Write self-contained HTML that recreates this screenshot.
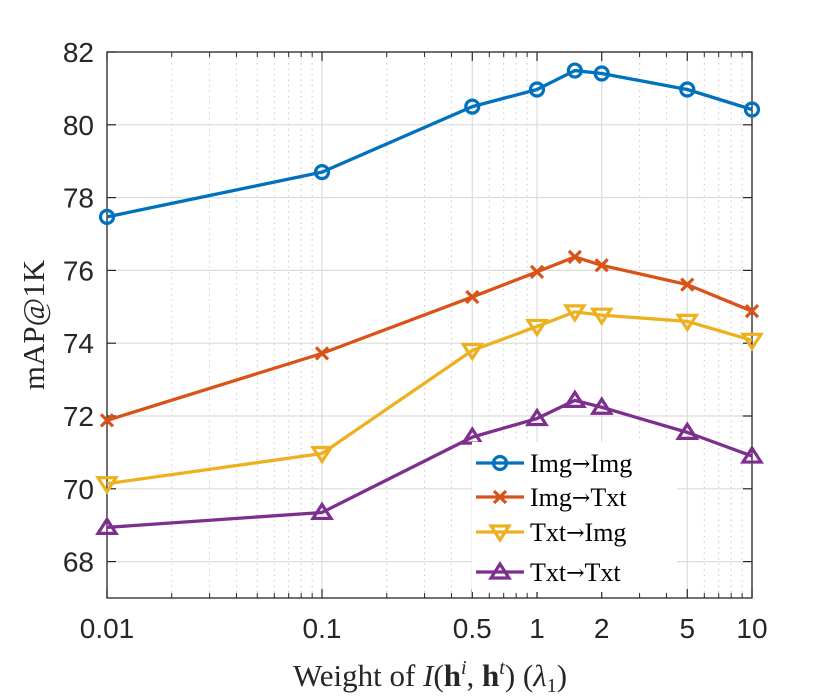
<!DOCTYPE html>
<html><head><meta charset="utf-8"><style>
body{margin:0;background:#fff}
svg{display:block}
.tk{font-family:"Liberation Sans",sans-serif;font-size:28px;fill:#262626}
.lb{font-family:"Liberation Serif",serif;font-size:31px;fill:#262626}
.lg{font-family:"Liberation Serif",serif;font-size:26px;fill:#000}
.ar{font-family:"DejaVu Serif",serif;font-size:22px}
</style></head><body>
<svg id="chart" width="830" height="700"></svg>
<script>
const xValues=[0.01,0.1,0.5,1,1.5,2,5,10];
const seriesNames=["Img→Img","Img→Txt","Txt→Img","Txt→Txt"];
const imgImg=[77.47,78.7,80.5,80.97,81.49,81.41,80.97,80.42];
const imgTxt=[71.88,73.72,75.27,75.96,76.37,76.14,75.61,74.88];
const txtImg=[70.14,70.97,73.8,74.46,74.86,74.77,74.6,74.08];
const txtTxt=[68.94,69.35,71.42,71.93,72.43,72.24,71.55,70.9];
const xTicks=[0.01,0.1,0.5,1,2,5,10];
const xTickLabels=["0.01","0.1","0.5","1","2","5","10"];
const yTicks=[68,70,72,74,76,78,80,82];

const L=107,R=752,T=52,B=598,ymin=67,ymax=82;
const NS="http://www.w3.org/2000/svg";
const svg=document.getElementById('chart');
function X(v){return L+(Math.log10(v)+2)/3*(R-L);}
function Y(v){return B-(v-ymin)/(ymax-ymin)*(B-T);}
function el(t,a,p){const e=document.createElementNS(NS,t);for(const k in a)e.setAttribute(k,a[k]);(p||svg).appendChild(e);return e;}

const minor=[];for(let d=-2;d<1;d++)for(let m=2;m<=9;m++)minor.push(m*Math.pow(10,d));
minor.forEach(v=>{if(v===0.5||v===2||v===5)return;const x=X(v);
const g=el('line',{x1:x,x2:x,y1:T,y2:B,stroke:'#c8c8c8','stroke-dasharray':'1.5 4','stroke-width':1});


const t1=el('line',{x1:x,x2:x,y1:B,y2:B-5,stroke:'#262626','stroke-width':1});


const t2=el('line',{x1:x,x2:x,y1:T,y2:T+5,stroke:'#262626','stroke-width':1});

});
xTicks.forEach((v,i)=>{const x=X(v);
const g=el('line',{x1:x,x2:x,y1:T,y2:B,stroke:'#dcdcdc','stroke-width':1.2});


el('line',{x1:x,x2:x,y1:B,y2:B-9,stroke:'#262626','stroke-width':1.2});
el('line',{x1:x,x2:x,y1:T,y2:T+9,stroke:'#262626','stroke-width':1.2});
const t=el('text',{x:x,y:B+40,'text-anchor':'middle',class:'tk'});t.textContent=xTickLabels[i];

});
yTicks.forEach(v=>{const y=Y(v);
const g=el('line',{x1:L,x2:R,y1:y,y2:y,stroke:'#dcdcdc','stroke-width':1.2});


el('line',{x1:L,x2:L+9,y1:y,y2:y,stroke:'#262626','stroke-width':1.2});
el('line',{x1:R,x2:R-9,y1:y,y2:y,stroke:'#262626','stroke-width':1.2});
const t=el('text',{x:L-13,y:y+10,'text-anchor':'end',class:'tk'});t.textContent=v;

});
const box=el('rect',{x:L,y:T,width:R-L,height:B-T,fill:'none',stroke:'#262626','stroke-width':1.3});



const colors=['#0072BD','#D95319','#EDB120','#7E2F8E'];
const markers=['circle','x','down','up'];
function marker(type,x,y,c,p){
 if(type==='circle')return el('circle',{cx:x,cy:y,r:6.5,fill:'none',stroke:c,'stroke-width':3.2},p);
 if(type==='x')return el('path',{d:`M${x-6},${y-6}L${x+6},${y+6}M${x-6},${y+6}L${x+6},${y-6}`,stroke:c,'stroke-width':3.2,fill:'none'},p);
 if(type==='down')return el('path',{d:`M${x-9},${y-6}L${x+9},${y-6}L${x},${y+8}Z`,stroke:c,'stroke-width':3.2,fill:'none'},p);
 return el('path',{d:`M${x-9},${y+6}L${x+9},${y+6}L${x},${y-8}Z`,stroke:c,'stroke-width':3.2,fill:'none'},p);
}
[imgImg,imgTxt,txtImg,txtTxt].forEach((s,i)=>{
 const g=el('g',{});
 
 
 el('polyline',{points:s.map((v,j)=>X(xValues[j])+','+Y(v)).join(' '),fill:'none',stroke:colors[i],'stroke-width':3.3,'stroke-linejoin':'round'},g);
 s.forEach((v,j)=>{const m=marker(markers[i],X(xValues[j]),Y(v),colors[i],g);
 
 });
});

const lg=el('g',{});


el('rect',{x:472,y:442,width:205,height:150,fill:'#fff'},lg);
const ly=[463,497,532,572];
seriesNames.forEach((n,i)=>{
 const e=el('g',{},lg);
 
 
 el('line',{x1:476,x2:524,y1:ly[i],y2:ly[i],stroke:colors[i],'stroke-width':3.2},e);
 marker(markers[i],500,ly[i],colors[i],e);
 const t=el('text',{x:530,y:ly[i]+9,class:'lg'},e);
 const p=n.split('→');
 t.innerHTML=p[0]+'<tspan class="ar" dy="-1">→</tspan><tspan dy="1">'+p[1]+'</tspan>';
});

const yl=el('text',{x:0,y:0,transform:'translate(44,325) rotate(-90)','text-anchor':'middle',class:'lb'});
yl.textContent='mAP@1K';


const xl=el('text',{x:430,y:686,'text-anchor':'middle',class:'lb'});
xl.innerHTML='Weight of <tspan font-style="italic">I</tspan>(<tspan font-weight="bold">h</tspan><tspan font-style="italic" font-size="20" dy="-12">i</tspan><tspan dy="12">, </tspan><tspan font-weight="bold">h</tspan><tspan font-style="italic" font-size="20" dy="-12">t</tspan><tspan dy="12">) (</tspan><tspan font-style="italic">λ</tspan><tspan font-size="20" dy="6">1</tspan><tspan dy="-6">)</tspan>';


</script>
</body></html>
